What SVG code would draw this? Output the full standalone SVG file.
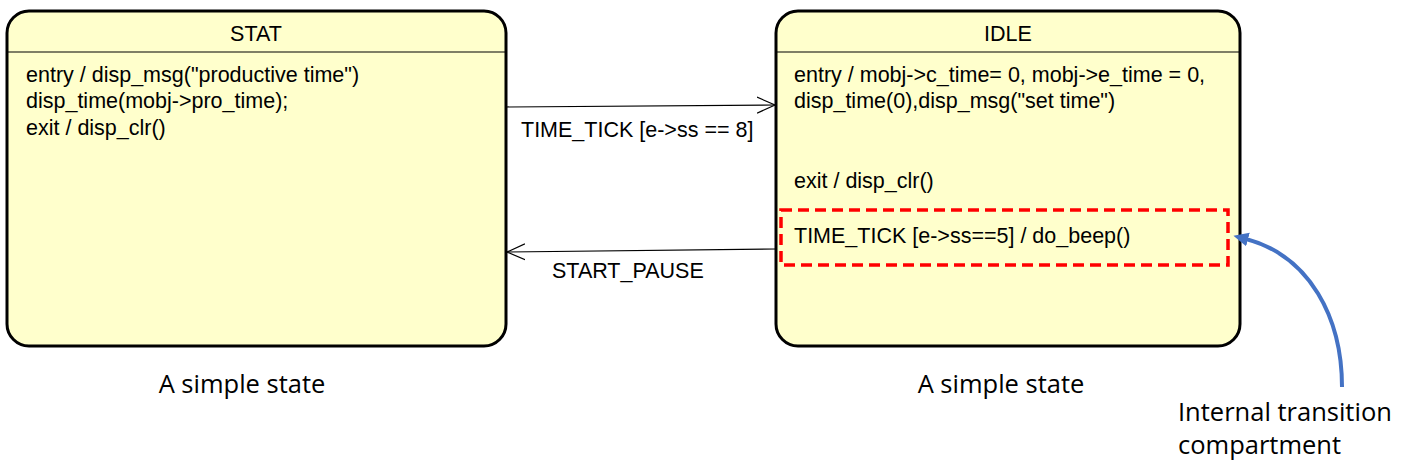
<svg xmlns="http://www.w3.org/2000/svg" width="1404" height="471" viewBox="0 0 1404 471">
<style>
.st{fill:#ffffcc;stroke:#000;stroke-width:3}
.hl{stroke:#000;stroke-width:1.2}
.t{font-family:"Liberation Sans",Arial,sans-serif;font-size:21.5px;fill:#000}
.c{font-family:"Open Sans","Noto Sans",sans-serif;font-size:25.5px;fill:#000}
.cn{fill:none;stroke:#000;stroke-width:1.2}
</style>
<defs>
<marker id="open" markerWidth="24" markerHeight="20" refX="18" refY="10" orient="auto" markerUnits="userSpaceOnUse">
<path d="M0,2 L18,10 L0,18" fill="none" stroke="#000" stroke-width="1.2"/>
</marker>
<marker id="blue" markerWidth="20" markerHeight="20" refX="2" refY="10" orient="auto" markerUnits="userSpaceOnUse">
<path d="M0,3 L15,10 L0,17 Z" fill="#4472c4"/>
</marker>
</defs>
<g id="STAT">
<rect class="st" x="7" y="11" width="499" height="335" rx="22"/>
<line class="hl" x1="8" y1="52" x2="505" y2="52"/>
<text class="t" x="256" y="41" text-anchor="middle">STAT</text>
<text class="t" x="26" y="82">entry / disp_msg("productive time")</text>
<text class="t" x="26" y="108">disp_time(mobj-&gt;pro_time);</text>
<text class="t" x="26" y="135">exit / disp_clr()</text>
</g>
<g id="IDLE">
<rect class="st" x="776" y="11" width="464" height="335" rx="22"/>
<line class="hl" x1="777" y1="52" x2="1239" y2="52"/>
<text class="t" x="1008" y="41" text-anchor="middle">IDLE</text>
<text class="t" x="794" y="82">entry / mobj-&gt;c_time= 0, mobj-&gt;e_time = 0,</text>
<text class="t" x="794" y="108">disp_time(0),disp_msg("set time")</text>
<text class="t" x="794" y="188">exit / disp_clr()</text>
<text class="t" x="794" y="243">TIME_TICK [e-&gt;ss==5] / do_beep()</text>
<rect x="781" y="210" width="447" height="55" fill="none" stroke="#ff0000" stroke-width="3.5" stroke-dasharray="11,6"/>
</g>
<g id="connectors">
<line class="cn" x1="506" y1="107" x2="775" y2="105" marker-end="url(#open)"/>
<text class="t" x="521" y="137">TIME_TICK [e-&gt;ss == 8]</text>
<line class="cn" x1="776" y1="249" x2="507" y2="252" marker-end="url(#open)"/>
<text class="t" x="552" y="278">START_PAUSE</text>
<path d="M1342,387 C1342,318 1310,256 1246,239" fill="none" stroke="#4472c4" stroke-width="4" marker-end="url(#blue)"/>
</g>
<g id="captions">
<text class="c" x="242" y="393" text-anchor="middle">A simple state</text>
<text class="c" x="1001" y="393" text-anchor="middle">A simple state</text>
<text class="c" x="1178" y="421">Internal transition</text>
<text class="c" x="1178" y="454">compartment</text>
</g>
</svg>
